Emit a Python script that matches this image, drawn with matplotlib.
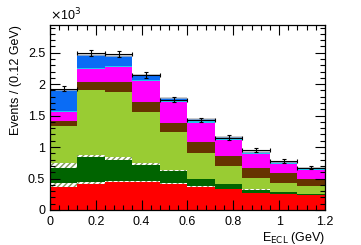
import numpy as np
import matplotlib
matplotlib.use("Agg")
import matplotlib.pyplot as plt
from matplotlib.ticker import MultipleLocator

plt.rcParams['font.family'] = ['Liberation Sans', 'DejaVu Sans']
plt.rcParams['hatch.linewidth'] = 1.0

# bin edges in GeV, 0.12 GeV wide
edges = np.linspace(0.0, 1.2, 11)

# stacked components, events in units of 10^3 (bottom to top)
red = [0.37, 0.41, 0.45, 0.45, 0.42, 0.37, 0.33, 0.27, 0.25, 0.24]
hatch_low = [0.06, 0.03, 0.01, 0.01, 0.01, 0.005, 0.005, 0.003, 0.002, 0.002]
dark_green = [0.23, 0.40, 0.34, 0.25, 0.19, 0.115, 0.075, 0.05, 0.03, 0.01]
hatch_high = [0.09, 0.04, 0.04, 0.03, 0.02, 0.01, 0.01, 0.005, 0.003, 0.002]
yellow_green = [0.59, 1.03, 1.03, 0.82, 0.60, 0.41, 0.28, 0.185, 0.14, 0.12]
brown = [0.08, 0.13, 0.16, 0.15, 0.15, 0.17, 0.15, 0.16, 0.16, 0.12]
magenta = [0.14, 0.20, 0.24, 0.34, 0.33, 0.31, 0.26, 0.22, 0.145, 0.14]
cyan = [0.02, 0.02, 0.02, 0.02, 0.02, 0.02, 0.02, 0.015, 0.015, 0.015]
blue = [0.33, 0.21, 0.16, 0.07, 0.04, 0.04, 0.03, 0.015, 0.015, 0.015]

# data counts (events)
data = [1930, 2500, 2480, 2150, 1750, 1430, 1150, 950, 780, 670]

layers = [
    (red, dict(color='#ff0000')),
    (hatch_low, dict(facecolor='white', edgecolor='#7f9a5a', hatch='//////')),
    (dark_green, dict(color='#006400')),
    (hatch_high, dict(facecolor='white', edgecolor='#7f9a5a', hatch='//////')),
    (yellow_green, dict(color='#99cc33')),
    (brown, dict(color='#663300')),
    (magenta, dict(color='#ff00ff')),
    (cyan, dict(color='#22c8f0')),
    (blue, dict(color='#0a6cf5')),
]

fig = plt.figure(figsize=(3.61, 2.45), dpi=100)
ax = fig.add_axes([0.1385, 0.143, 0.7615, 0.755])

centers = 0.5 * (edges[:-1] + edges[1:])
width = edges[1] - edges[0]
bottom = np.zeros(len(centers))
for vals, style in layers:
    vals = np.array(vals)
    ax.bar(centers, vals, width=width, bottom=bottom, linewidth=0, **style)
    bottom += vals

# light grey band at the top of the stack
ax.bar(centers, 0.03, width=width, bottom=bottom - 0.015, color='#b8b8b8', alpha=0.7, linewidth=0)

d = np.array(data) / 1000.0
err = np.sqrt(data) / 1000.0
ax.errorbar(centers, d, xerr=width / 2, yerr=err, fmt='none', ecolor='black',
            elinewidth=0.8, capsize=1.2, capthick=0.8)

ax.set_xlim(0, 1.2)
ax.set_ylim(0, 2.94)
ax.xaxis.set_major_locator(MultipleLocator(0.2))
ax.xaxis.set_minor_locator(MultipleLocator(0.04))
ax.yaxis.set_major_locator(MultipleLocator(0.5))
ax.yaxis.set_minor_locator(MultipleLocator(0.1))
ax.set_yticks([0, 0.5, 1, 1.5, 2, 2.5])
ax.set_yticklabels(['0', '0.5', '1', '1.5', '2', '2.5'])
ax.set_xticks([0, 0.2, 0.4, 0.6, 0.8, 1, 1.2])
ax.set_xticklabels(['0', '0.2', '0.4', '0.6', '0.8', '1', '1.2'])
ax.tick_params(which='both', direction='in', top=True, right=True, labelsize=9, width=0.8)
ax.tick_params(which='major', length=7)
ax.tick_params(which='minor', length=3.5)
ax.tick_params(axis='x', pad=4)
for s in ax.spines.values():
    s.set_linewidth(0.9)

ax.set_ylabel('Events / (0.12 GeV)', loc='top', fontsize=9)
ax.set_xlabel(r'E$_{\mathrm{ECL}}$ (GeV)', loc='right', fontsize=9, labelpad=2)
ax.text(0.0, 1.01, r'$\times$10$^{3}$', transform=ax.transAxes, ha='left', va='bottom', fontsize=9)

fig.savefig('out.png', dpi=100)
